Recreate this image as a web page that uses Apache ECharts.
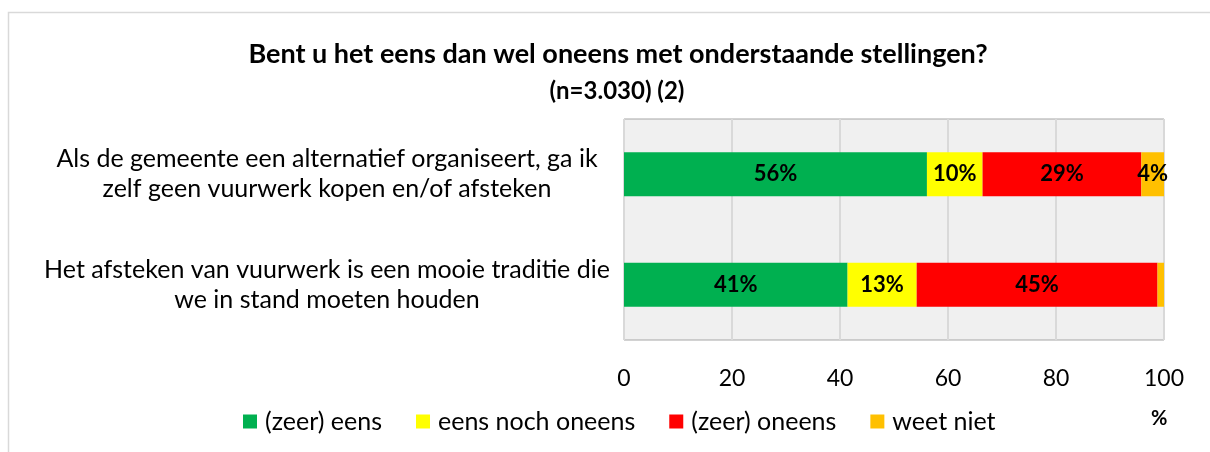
<!DOCTYPE html>
<html>
<head>
<meta charset="utf-8">
<script src="https://cdn.jsdelivr.net/npm/echarts@6/dist/echarts.min.js"></script>
<style>
  html, body { margin: 0; padding: 0; background: #fff; }
  #chart { width: 1210px; height: 452px; }
</style>
</head>
<body>
<div id="chart"></div>
<script>
// stellingen (van boven naar onder)
var categories = [
    'Als de gemeente een alternatief organiseert, ga ik\nzelf geen vuurwerk kopen en/of afsteken',
    'Het afsteken van vuurwerk is een mooie traditie die\nwe in stand moeten houden'
];
var seriesNames = ['(zeer) eens', 'eens noch oneens', '(zeer) oneens', 'weet niet'];
var seriesColors = ['#00b050', '#ffff00', '#ff0000', '#ffc000'];
var eens = [56.1, 41.4];
var neutraal = [10.3, 12.8];
var oneens = [29.4, 44.6];
var weetNiet = [4.2, 1.2];
var xTicks = [0, 20, 40, 60, 80, 100];

var font = 'Lato, "Open Sans", sans-serif';
var myChart = echarts.init(document.getElementById('chart'));

var makeSeries = function (name, values, color) {
    return {
        name: name,
        type: 'bar',
        stack: 'totaal',
        data: values,
        barWidth: 44,
        itemStyle: { color: color },
        label: {
            show: true,
            position: 'inside',
            color: '#000',
            fontFamily: font,
            fontWeight: 'bold',
            fontSize: 22,
            formatter: function (p) {
                return p.value < 3 ? '' : Math.round(p.value) + '%';
            }
        }
    };
};

var option = {
    backgroundColor: '#fff',
    animation: false,
    title: [
        {
            text: 'Bent u het eens dan wel oneens met onderstaande stellingen?',
            left: 613,
            textAlign: 'center',
            top: 36,
            textStyle: { fontFamily: font, fontWeight: 'bold', fontSize: 27, color: '#000' }
        },
        {
            text: '(n=3.030) (2)',
            left: 612,
            textAlign: 'center',
            top: 74,
            textStyle: { fontFamily: font, fontWeight: 'bold', fontSize: 24, color: '#000' }
        }
    ],
    legend: {
        data: seriesNames,
        left: 238,
        top: 404,
        itemWidth: 14,
        itemHeight: 14,
        itemGap: 34,
        icon: 'rect',
        textStyle: { fontFamily: font, fontSize: 25, color: '#000', padding: [0, 0, 0, 3] }
    },
    grid: {
        left: 624,
        right: 46,
        top: 119,
        bottom: 112,
        show: true,
        backgroundColor: '#f0f0f0',
        borderColor: '#a6a6a6',
        borderWidth: 1
    },
    xAxis: {
        type: 'value',
        min: 0,
        max: 100,
        interval: 20,
        axisLine: { show: false },
        axisTick: { show: false },
        splitLine: { lineStyle: { color: '#d9d9d9', width: 2 } },
        axisLabel: {
            fontFamily: font,
            fontSize: 23,
            color: '#000',
            margin: 27,
            formatter: function (v) { return xTicks.indexOf(v) >= 0 ? String(v) : ''; }
        }
    },
    yAxis: {
        type: 'category',
        data: categories,
        inverse: true,
        axisLine: { show: false },
        axisTick: { show: false },
        axisLabel: {
            fontFamily: font,
            fontSize: 25,
            color: '#000',
            margin: 297,
            align: 'center',
            lineHeight: 30
        }
    },
    graphic: [
        {
            type: 'rect',
            shape: { x: 8.5, y: 12.5, width: 1220, height: 460 },
            style: { fill: 'none', stroke: '#d9d9d9', lineWidth: 1.5 },
            silent: true
        },
        {
            type: 'text',
            left: 1151,
            top: 409,
            style: { text: '%', fontFamily: font, fontWeight: 'bold', fontSize: 20, fill: '#000' }
        }
    ],
    series: [
        makeSeries(seriesNames[0], eens, seriesColors[0]),
        makeSeries(seriesNames[1], neutraal, seriesColors[1]),
        makeSeries(seriesNames[2], oneens, seriesColors[2]),
        makeSeries(seriesNames[3], weetNiet, seriesColors[3])
    ]
};
myChart.setOption(option);
</script>
</body>
</html>
